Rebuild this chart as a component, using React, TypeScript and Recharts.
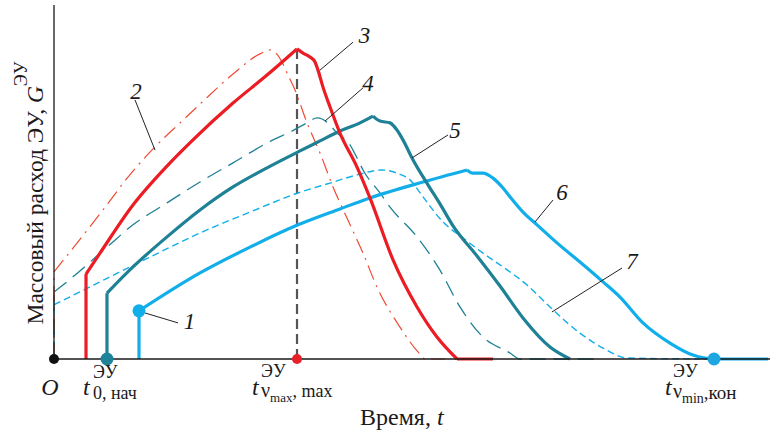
import React from 'react';
import { LineChart, Line, XAxis, YAxis, ReferenceLine, ReferenceDot, Label } from 'recharts';

const FONT = '"Liberation Serif", "DejaVu Serif", "Times New Roman", serif';

// time (arbitrary units 0..100), mass flow G (arbitrary units 0..100)
const curve2: [number, number][] = [
  [0, 0], [0, 24.6], [6.42, 41.0], [11.03, 53.1], [14.39, 60.5], [17.6, 66.7], [20.39, 72.0],
  [25.0, 80.5], [28.77, 86.2], [30.17, 87.3], [31.01, 86.4], [31.84, 83.9], [32.68, 80.2], [33.66, 76.0],
  [35.34, 66.7], [37.15, 58.2], [38.97, 48.6], [40.92, 39.8], [43.16, 29.9], [45.11, 20.3], [48.32, 9.0],
  [50.84, 2.0], [51.82, 0], [54.61, 0],
];
const curve3: [number, number][] = [
  [4.47, 0], [4.47, 24.0], [6.42, 29.9], [11.03, 43.5], [15.78, 54.5], [19.41, 61.9], [25.0, 72.3],
  [29.75, 80.2], [33.94, 87.6], [34.78, 86.4], [35.75, 85.3], [36.45, 83.9], [36.87, 81.6], [37.57, 76.8],
  [38.55, 71.2], [39.94, 63.8], [42.32, 54.2], [44.13, 45.5], [47.35, 28.0], [50.7, 14.7], [53.49, 6.2],
  [56.28, 0], [61.31, 0],
];
const curve4: [number, number][] = [
  [0, 0], [0, 18.9], [2.65, 23.2], [7.4, 31.6], [11.03, 37.9], [15.78, 44.1], [20.39, 50.0], [25.0, 55.4],
  [30.59, 61.9], [32.96, 64.1], [35.34, 66.7], [36.73, 68.1], [37.43, 67.8], [38.13, 66.9], [39.53, 63.8],
  [41.34, 60.5], [42.32, 56.8], [43.16, 53.4], [45.53, 46.9], [46.93, 42.9], [50.7, 34.5], [53.91, 25.1],
  [56.7, 14.7], [59.92, 6.2], [63.69, 1.7], [65.08, 0], [76.26, 0],
];
const curve5: [number, number][] = [
  [7.4, 0], [7.4, 18.6], [11.03, 26.0], [15.78, 34.5], [20.39, 42.1], [25.0, 48.6], [29.75, 54.0],
  [34.08, 58.5], [37.15, 61.6], [39.94, 64.4], [42.74, 66.7], [44.55, 68.6], [45.53, 67.2], [46.93, 66.7],
  [47.9, 64.7], [48.74, 61.9], [50.0, 56.8], [52.23, 49.2], [53.91, 43.8], [55.73, 37.6], [59.08, 29.1],
  [62.29, 20.6], [65.5, 11.6], [69.27, 3.4], [72.07, 0],
];
const curve6: [number, number][] = [
  [11.87, 0], [11.87, 13.6], [20.39, 24.3], [27.37, 31.6], [34.08, 37.9], [39.94, 42.4],
  [44.13, 45.5], [51.54, 50.0], [57.68, 53.4], [58.52, 52.5], [59.92, 52.5], [61.31, 51.1], [62.71, 48.3],
  [63.69, 45.8], [65.5, 41.5], [67.46, 37.9], [70.25, 32.8], [73.46, 27.4], [76.68, 21.8], [79.05, 17.5],
  [82.26, 10.2], [86.03, 4.5], [89.25, 1.1], [92.04, 0], [99.72, 0],
];
const curve7: [number, number][] = [
  [0, 0], [0, 15.3], [6.42, 21.8], [13.41, 28.8], [20.39, 35.6], [27.37, 41.5], [34.08, 46.9], [38.55, 49.7],
  [42.32, 52.0], [45.81, 53.4], [47.9, 52.5], [49.72, 50.6], [51.54, 45.8], [54.33, 38.7], [57.12, 34.2],
  [59.92, 29.9], [62.71, 26.0], [66.06, 20.9], [69.27, 14.7], [73.46, 7.3], [76.68, 3.1], [80.03, 0.3],
  [90.22, 0],
];

// indices of sharp corners in each curve
const breaks2 = [1];
const breaks3 = [1, 8, 21];
const breaks4 = [1];
const breaks5 = [1, 11];
const breaks6 = [1, 8];
const breaks7 = [1];

// characteristic moments on the time axis: O, t0,нач, tνmax,max, tνmin,кон
const tickValues = [0, 7.4, 33.94, 92.18];
const peakG = 87.6;
const curve1Start: [number, number] = [11.87, 13.6];

const curveNames = ['1', '2', '3', '4', '5', '6', '7'];
const namePos: [number, number][] = [
  [18.92, 10.7], [11.45, 75.7], [43.36, 91.5], [43.85, 78.0], [56.0, 64.7], [70.95, 47.2], [80.72, 27.7],
];
const leaders: [number, number, number, number][] = [
  [12.71, 13.0, 17.32, 10.2],
  [11.31, 73.2, 14.11, 59.0],
  [41.76, 89.5, 37.15, 81.6],
  [43.16, 76.6, 37.85, 67.2],
  [55.03, 63.3, 50.0, 56.8],
  [69.69, 44.9, 67.18, 38.7],
  [79.33, 25.7, 69.55, 13.3],
];

const RED = '#ec1c24';
const RED_THIN = '#ee4b33';
const TEAL = '#1e8195';
const BLUE = '#12aeea';

const toData = (pts: [number, number][]) => pts.map(([t, g]) => ({ t, g }));

function split(pts: [number, number][], br: number[]) {
  const segs: [number, number][][] = [];
  let start = 0;
  for (const b of [...br, pts.length - 1]) {
    if (b > start) segs.push(pts.slice(start, b + 1));
    start = b;
  }
  return segs;
}

const series = [
  { pts: curve7, br: breaks7, stroke: BLUE, w: 1.4, dash: '7 4' },
  { pts: curve4, br: breaks4, stroke: TEAL, w: 1.3, dash: '16 8' },
  { pts: curve2, br: breaks2, stroke: RED_THIN, w: 1.2, dash: '15 6 2 6' },
  { pts: curve6, br: breaks6, stroke: BLUE, w: 3.2, dash: undefined },
  { pts: curve5, br: breaks5, stroke: TEAL, w: 3.2, dash: undefined },
  { pts: curve3, br: breaks3, stroke: RED, w: 3.2, dash: undefined },
];

function Tick(props: any) {
  const { x, y, index } = props;
  const common = { fontFamily: FONT, fill: '#1a1a1a' } as any;
  if (index === 0) {
    return (
      <text x={x - 4} y={y + 36} textAnchor="middle" fontSize={24} fontStyle="italic" {...common}>O</text>
    );
  }
  if (index === 1) {
    return (
      <g>
        <text x={x - 24} y={y + 36} fontSize={24} fontStyle="italic" {...common}>t</text>
        <text x={x - 14} y={y + 19} fontSize={18} {...common}>ЭУ</text>
        <text x={x - 14} y={y + 40} fontSize={18} {...common}>0, нач</text>
      </g>
    );
  }
  if (index === 2) {
    return (
      <g>
        <text x={x - 45} y={y + 36} fontSize={24} fontStyle="italic" {...common}>t</text>
        <text x={x - 36} y={y + 18} fontSize={18} {...common}>ЭУ</text>
        <text x={x - 36} y={y + 38} fontSize={20} {...common}>
          ν<tspan fontSize={13} dy={5}>max</tspan><tspan fontSize={18} dy={-5}>, max</tspan>
        </text>
      </g>
    );
  }
  return (
    <g>
      <text x={x - 49} y={y + 36} fontSize={24} fontStyle="italic" {...common}>t</text>
      <text x={x - 41} y={y + 18} fontSize={18} {...common}>ЭУ</text>
      <text x={x - 41} y={y + 39} fontSize={20} {...common}>
        ν<tspan fontSize={14} dy={5}>min</tspan><tspan fontSize={19} dy={-4}>,кон</tspan>
      </text>
    </g>
  );
}

const XLabel = (props: any) => {
  const vb = props.viewBox || { x: 54, y: 359, width: 716 };
  return (
    <text x={vb.x + 306} y={vb.y + 66} fontSize={24} fontFamily={FONT} fill="#1a1a1a">
      Время, <tspan fontStyle="italic">t</tspan>
    </text>
  );
};

const YLabel = (props: any) => {
  const vb = props.viewBox || { x: 0, y: 5, width: 54, height: 354 };
  const cx = vb.x + 43;
  const cy = vb.y + 188;
  return (
    <text x={cx} y={cy} transform={`rotate(-90, ${cx}, ${cy})`} textAnchor="middle" fontSize={23.5} fontFamily={FONT} fill="#1a1a1a">
      Массовый расход ЭУ, <tspan fontStyle="italic">G</tspan><tspan fontSize={18} dy={-16}>ЭУ</tspan>
    </text>
  );
};

const NameText = (name: string) => (p: any) => (
  <text x={p.cx} y={p.cy} dy="0.34em" textAnchor="middle" fontSize={23} fontStyle="italic" fontFamily={FONT} fill="#1a1a1a">
    {name}
  </text>
);

export default function App() {
  return (
    <div style={{ position: 'absolute', left: 0, top: 0, background: '#fff' }}>
      <LineChart width={784} height={438} margin={{ top: 5, right: 14, bottom: 0, left: 0 }}>
        <XAxis
          dataKey="t"
          type="number"
          domain={[0, 100]}
          ticks={tickValues}
          interval={0}
          tickLine={false}
          tickSize={0}
          tickMargin={0}
          height={79}
          axisLine={{ stroke: '#1a1a1a', strokeWidth: 1.3 }}
          tick={<Tick />}
        >
          <Label content={XLabel} />
        </XAxis>
        <YAxis
          type="number"
          domain={[0, 100]}
          tick={false}
          tickLine={false}
          width={54}
          axisLine={{ stroke: '#1a1a1a', strokeWidth: 1.3 }}
        >
          <Label content={YLabel} />
        </YAxis>

        <ReferenceLine
          segment={[{ x: tickValues[2], y: 0 }, { x: tickValues[2], y: peakG }]}
          stroke="#555"
          strokeWidth={2.2}
          strokeDasharray="10 5"
        />

        {series.flatMap((s, si) =>
          split(s.pts, s.br).map((seg, k) => (
            <Line
              key={`s${si}-${k}`}
              data={toData(seg)}
              dataKey="g"
              type={seg.length > 2 ? 'monotone' : 'linear'}
              dot={false}
              activeDot={false}
              isAnimationActive={false}
              stroke={s.stroke}
              strokeWidth={s.w}
              strokeDasharray={s.dash}
              strokeLinejoin="round"
              strokeLinecap="butt"
            />
          ))
        )}

        {leaders.map((l, i) => (
          <ReferenceLine
            key={'ld' + i}
            segment={[{ x: l[0], y: l[1] }, { x: l[2], y: l[3] }]}
            stroke="#222"
            strokeWidth={1}
          />
        ))}
        {curveNames.map((n, i) => (
          <ReferenceDot key={'nm' + i} x={namePos[i][0]} y={namePos[i][1]} r={0} shape={NameText(n)} />
        ))}

        <ReferenceDot x={tickValues[0]} y={0} r={5} fill="#111" stroke="none" />
        <ReferenceDot x={tickValues[1]} y={0} r={6.5} fill="#1f8399" stroke="none" />
        <ReferenceDot x={tickValues[2]} y={0} r={5} fill="#e8202a" stroke="none" />
        <ReferenceDot x={tickValues[3]} y={0} r={6.5} fill="#1ea6e0" stroke="none" />
        <ReferenceDot x={curve1Start[0]} y={curve1Start[1]} r={6.5} fill={BLUE} stroke="none" />
      </LineChart>
    </div>
  );
}
